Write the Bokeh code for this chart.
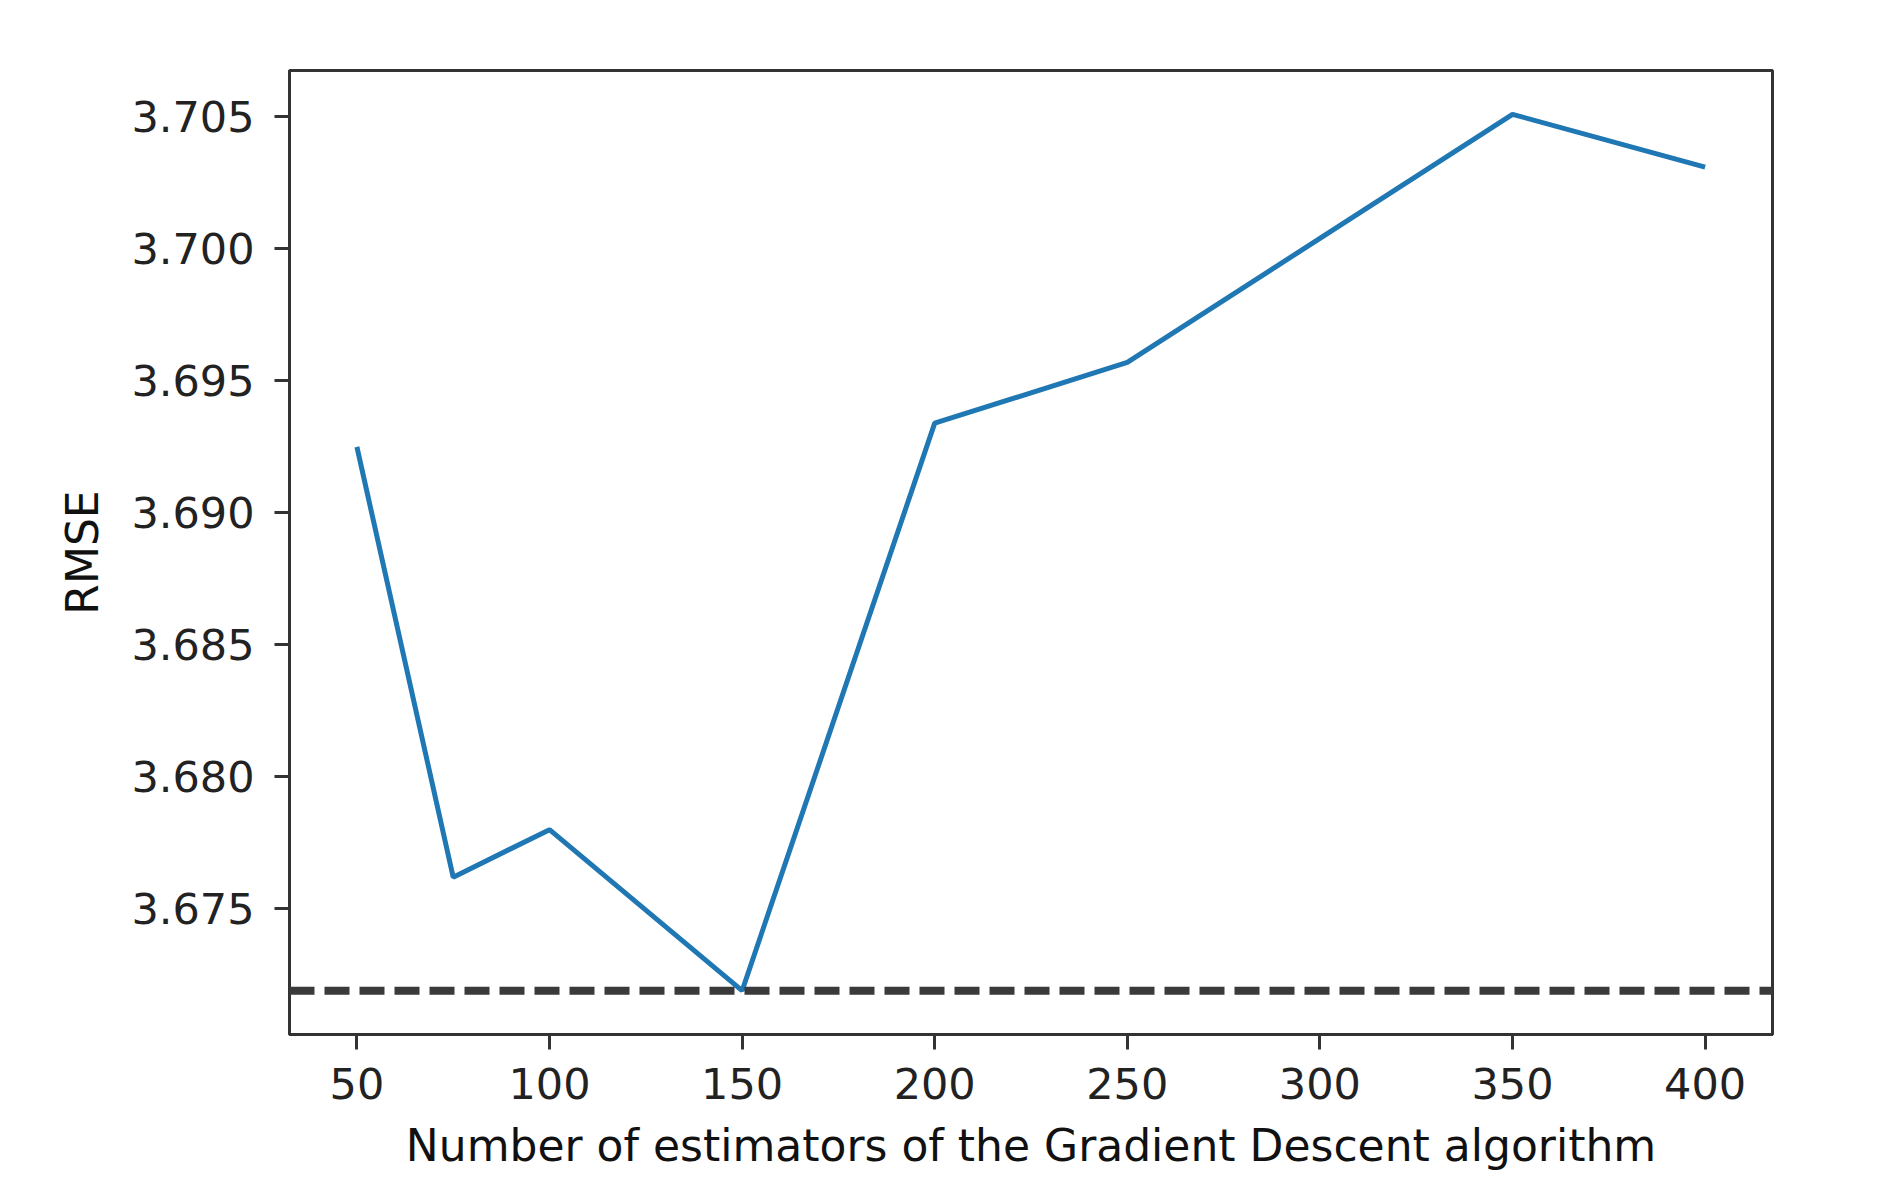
from bokeh.plotting import figure
from bokeh.models import Range1d, FixedTicker, Span, NumeralTickFormatter
from bokeh.embed import file_html
from bokeh.resources import INLINE

# Data
n_estimators = [50, 75, 100, 150, 200, 250, 300, 350, 400]
rmse = [3.6925, 3.6762, 3.6780, 3.6719, 3.6934, 3.6957, 3.7004, 3.7051, 3.7031]
x_ticks = [50, 100, 150, 200, 250, 300, 350, 400]
y_ticks = [3.675, 3.680, 3.685, 3.690, 3.695, 3.700, 3.705]
x_label = "Number of estimators of the Gradient Descent algorithm"
y_label = "RMSE"

xmin, xmax = min(n_estimators), max(n_estimators)
ymin, ymax = min(rmse), max(rmse)
xm = (xmax - xmin) * 0.05
ym = (ymax - ymin) * 0.05

p = figure(width=1865, height=1175, output_backend="svg", toolbar_location=None,
           x_range=Range1d(xmin - xm, xmax + xm), y_range=Range1d(ymin - ym, ymax + ym),
           min_border_left=289, min_border_right=93, min_border_top=70, min_border_bottom=141)
p.background_fill_color = "white"
p.border_fill_color = "white"
p.grid.visible = False
p.outline_line_color = "#333333"
p.outline_line_width = 3
p.outline_line_alpha = 1.0

p.line(n_estimators, rmse, line_color="#1f77b4", line_width=5)
p.add_layout(Span(location=min(rmse), dimension="width", line_color="#3a3a3a",
                  line_width=8, line_dash="25 10"))

p.xaxis.ticker = FixedTicker(ticks=x_ticks)
p.yaxis.ticker = FixedTicker(ticks=y_ticks)
p.yaxis.formatter = NumeralTickFormatter(format="0.000")

for ax in (p.xaxis, p.yaxis):
    ax.axis_line_color = "#333333"
    ax.axis_line_width = 3
    ax.major_tick_line_color = "#333333"
    ax.major_tick_line_width = 3
    ax.major_tick_out = 15
    ax.major_tick_in = 0
    ax.minor_tick_line_color = None
    ax.major_label_text_font = "DejaVu Sans"
    ax.major_label_text_font_size = "43px"
    ax.major_label_text_color = "#222222"
    ax.axis_label_text_font = "DejaVu Sans"
    ax.axis_label_text_font_size = "44px"
    ax.axis_label_text_font_style = "normal"
    ax.axis_label_text_color = "#111111"

p.xaxis.axis_label = x_label
p.yaxis.axis_label = y_label
p.yaxis.major_label_standoff = 20
p.xaxis.major_label_standoff = 18
p.yaxis.axis_label_standoff = 20
p.xaxis.axis_label_standoff = 18

open("out.html", "w").write(file_html(p, INLINE))
